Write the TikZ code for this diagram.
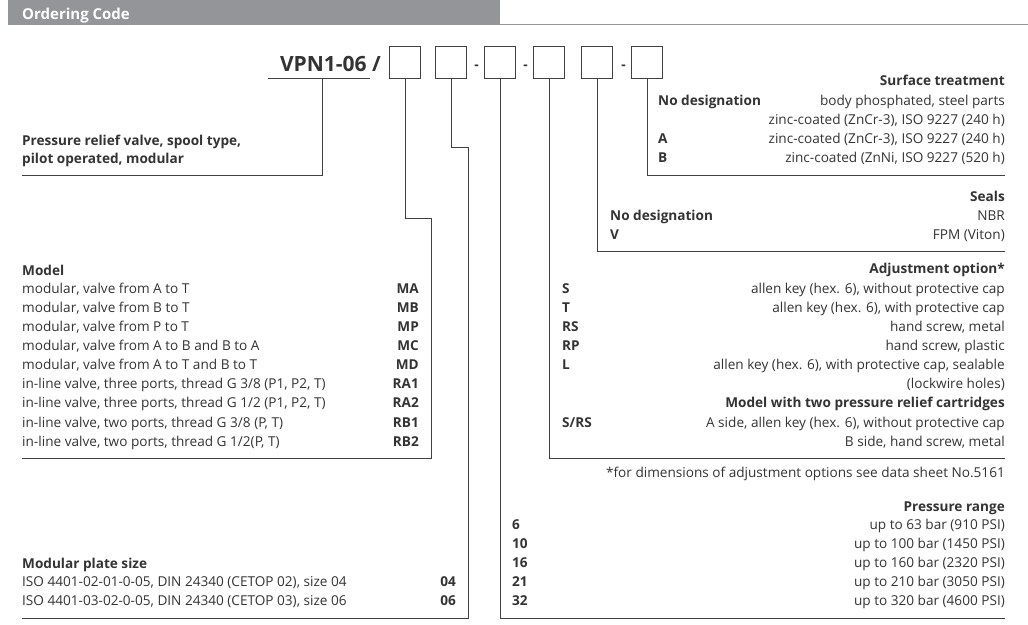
\documentclass[tikz,border=0pt]{standalone}
\usepackage{fontspec}
\setmainfont{Open Sans}
\usepackage{tikz}
\definecolor{txt}{HTML}{333333}
\definecolor{hdr}{HTML}{939598}
\tikzset{
  lt/.style={anchor=base west,inner sep=0pt,text=txt,font=\fontsize{13.6}{15}\selectfont},
  rt/.style={anchor=base east,inner sep=0pt,text=txt,font=\fontsize{13.6}{15}\selectfont},
  b/.style={font=\fontsize{13.6}{15}\selectfont\bfseries},
  ln/.style={draw=black!75,line width=0.8pt},
  box/.style={draw=black!75,line width=0.8pt,minimum width=31pt,minimum height=32pt,inner sep=0pt}
}
\begin{document}
\begin{tikzpicture}[x=1pt,y=-1pt]
\useasboundingbox (0,0) rectangle (1028,624);
% header
\fill[hdr] (8,0) rectangle (500,25);
\draw[hdr,line width=1pt] (500,24.5) -- (1028,24.5);
\node[anchor=base west,inner sep=0pt,text=white,font=\fontsize{15}{17}\selectfont\bfseries] (title) at (22,19) {Ordering Code};

% code line
\node[anchor=base east,inner sep=0pt,text=txt,font=\fontsize{21}{24}\selectfont\bfseries] (code) at (381,71) {VPN1-06 /};
\node[box] (b1) at (405,62) {};
\node[box] (b2) at (451,62) {};
\node[box] (b3) at (500,62) {};
\node[box] (b4) at (549,62) {};
\node[box] (b5) at (597,62) {};
\node[box] (b6) at (647,62) {};
\node[rt,b] (d1) at (479,69) {-};
\node[rt,b] (d2) at (528,69) {-};
\node[rt,b] (d3) at (626,69) {-};

% leaders
\coordinate (u1) at (268,78);
\coordinate (u2) at (370,78);
\draw[ln] (u1) -- (u2);
\draw[ln] (322,78) -- (322,175) -- (22,175);
\draw[ln] (b1.south) -- (405,218) -- (431,218) -- (431,458) -- (22,458);
\draw[ln] (b2.south) -- (451,147) -- (468,147) -- (468,618) -- (22,618);
\draw[ln] (b3.south) -- (500,618) -- (1005,618);
\draw[ln] (b4.south) -- (549,458) -- (1005,458);
\draw[ln] (b5.south) -- (597,251) -- (1005,251);
\draw[ln] (b6.south) -- (647,175) -- (1005,175);

% surface treatment
\node[rt,b] (st) at (1005,85) {Surface treatment};
\node[lt,b] (st0) at (658,105) {No designation};
\node[rt] (st0a) at (1005,105) {body phosphated, steel parts};
\node[rt] (st0b) at (1005,124) {zinc-coated (ZnCr-3), ISO 9227 (240 h)};
\node[lt,b] (sta) at (658,143) {A};
\node[rt] (staa) at (1005,143) {zinc-coated (ZnCr-3), ISO 9227 (240 h)};
\node[lt,b] (stb) at (658,162) {B};
\node[rt] (stbb) at (1005,162) {zinc-coated (ZnNi, ISO 9227 (520 h)};

% seals
\node[rt,b] (se) at (1005,201) {Seals};
\node[lt,b] (se0) at (610,220) {No designation};
\node[rt] (se0a) at (1005,220) {NBR};
\node[lt,b] (sev) at (610,239) {V};
\node[rt] (seva) at (1005,239) {FPM (Viton)};

% adjustment
\node[rt,b] (ad) at (1005,273) {Adjustment option*};
\node[lt,b] (ads) at (562,293) {S};
\node[rt] (adsa) at (1005,293) {allen key (hex. 6), without protective cap};
\node[lt,b] (adt) at (562,312) {T};
\node[rt] (adta) at (1005,312) {allen key (hex. 6), with protective cap};
\node[lt,b] (adrs) at (562,331) {RS};
\node[rt] (adrsa) at (1005,331) {hand screw, metal};
\node[lt,b] (adrp) at (562,350) {RP};
\node[rt] (adrpa) at (1005,350) {hand screw, plastic};
\node[lt,b] (adl) at (562,369) {L};
\node[rt] (adla) at (1005,369) {allen key (hex. 6), with protective cap, sealable};
\node[rt] (adlb) at (1005,388) {(lockwire holes)};
\node[rt,b] (tw) at (1005,407) {Model with two pressure relief cartridges};
\node[lt,b] (tws) at (562,427) {S/RS};
\node[rt] (twa) at (1005,427) {A side, allen key (hex. 6), without protective cap};
\node[rt] (twb) at (1005,446) {B side, hand screw, metal};
\node[rt] (note) at (1005,477) {*for dimensions of adjustment options see data sheet No.5161};

% pressure range
\node[rt,b] (pr) at (1005,511) {Pressure range};
\node[lt,b] (p6) at (512,529) {6};
\node[rt] (p6a) at (1005,529) {up to 63 bar (910 PSI)};
\node[lt,b] (p10) at (512,548) {10};
\node[rt] (p10a) at (1005,548) {up to 100 bar (1450 PSI)};
\node[lt,b] (p16) at (512,567) {16};
\node[rt] (p16a) at (1005,567) {up to 160 bar (2320 PSI)};
\node[lt,b] (p21) at (512,586) {21};
\node[rt] (p21a) at (1005,586) {up to 210 bar (3050 PSI)};
\node[lt,b] (p32) at (512,605) {32};
\node[rt] (p32a) at (1005,605) {up to 320 bar (4600 PSI)};

% left side
\node[lt,b] (ty1) at (22,145) {Pressure relief valve, spool type,};
\node[lt,b] (ty2) at (22,163) {pilot operated, modular};

\node[lt,b] (mo) at (22,275) {Model};
\node[lt] (ma) at (22,293) {modular, valve from A to T};
\node[rt,b] (mac) at (419,293) {MA};
\node[lt] (mb) at (22,312) {modular, valve from B to T};
\node[rt,b] (mbc) at (419,312) {MB};
\node[lt] (mp) at (22,331) {modular, valve from P to T};
\node[rt,b] (mpc) at (419,331) {MP};
\node[lt] (mc) at (22,350) {modular, valve from A to B and B to A};
\node[rt,b] (mcc) at (419,350) {MC};
\node[lt] (md) at (22,369) {modular, valve from A to T and B to T};
\node[rt,b] (mdc) at (419,369) {MD};
\node[lt] (ra1) at (22,388) {in-line valve, three ports, thread G 3/8 (P1, P2, T)};
\node[rt,b] (ra1c) at (419,388) {RA1};
\node[lt] (ra2) at (22,407) {in-line valve, three ports, thread G 1/2 (P1, P2, T)};
\node[rt,b] (ra2c) at (419,407) {RA2};
\node[lt] (rb1) at (22,427) {in-line valve, two ports, thread G 3/8 (P, T)};
\node[rt,b] (rb1c) at (419,427) {RB1};
\node[lt] (rb2) at (22,446) {in-line valve, two ports, thread G 1/2(P, T)};
\node[rt,b] (rb2c) at (419,446) {RB2};

\node[lt,b] (sz) at (22,568) {Modular plate size};
\node[lt] (s04) at (22,586) {ISO 4401-02-01-0-05, DIN 24340 (CETOP 02), size 04};
\node[rt,b] (s04c) at (456,586) {04};
\node[lt] (s06) at (22,605) {ISO 4401-03-02-0-05, DIN 24340 (CETOP 03), size 06};
\node[rt,b] (s06c) at (456,605) {06};
\end{tikzpicture}
\end{document}
